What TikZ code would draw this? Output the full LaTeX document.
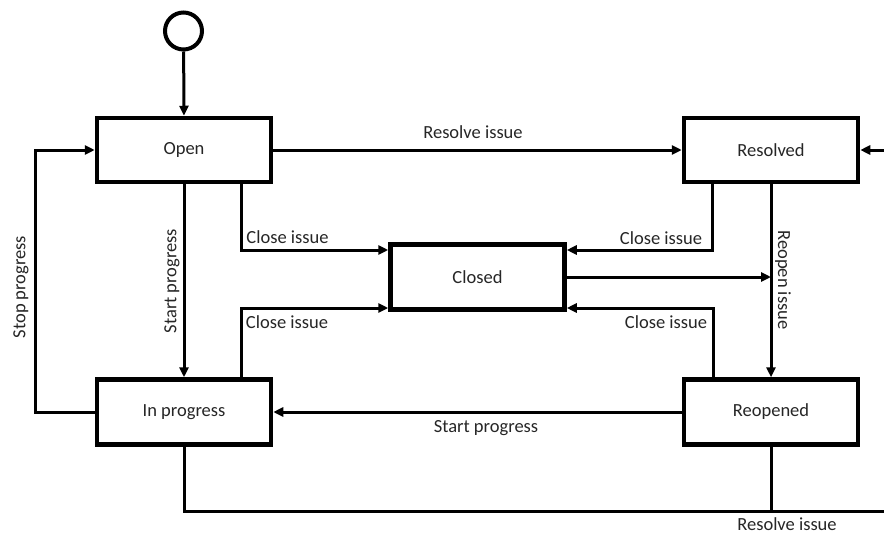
\documentclass[tikz,border=0pt]{standalone}
\usepackage{fontspec}
\setmainfont{Carlito}
\usetikzlibrary{arrows.meta,calc}
\tikzset{
  state/.style={draw=black, line width=4.5pt, fill=white, rectangle,
    minimum width=174pt, minimum height=65pt, inner sep=0pt,
    font=\fontsize{18.5}{22}\selectfont, text=black!85},
  conn/.style={line width=3pt, -{Triangle[length=10pt,width=9pt]}},
  wire/.style={line width=3pt},
  lbl/.style={font=\fontsize{18.5}{22}\selectfont, text=black!85, inner sep=0pt},
}
\begin{document}
\begin{tikzpicture}[x=1pt,y=-1pt]
  \useasboundingbox (0,0) rectangle (884,535);

  % states
  \node[draw=black, line width=4pt, circle, minimum size=37pt, inner sep=0pt] (init) at (183.5,31) {};
  \node[state, minimum height=64pt] (open) at (184,150) {Open};
  \node[state, minimum height=64pt] (resolved) at (771,150) {Resolved};
  \node[state] (closed) at (477.5,277) {Closed};
  \node[state] (inprog) at (184,412) {In progress};
  \node[state] (reopened) at (771,412) {Reopened};

  % free ends at the right border
  \coordinate (rin) at (884,150);
  \coordinate (rbot) at (884,511);

  % transitions
  \draw[conn] (init) -- (open.north);
  \draw[conn] (open.east) -- (resolved.west);
  \draw[conn] (rin) -- (resolved.east);
  \draw[conn] (open.south) -- (inprog.north);
  \draw[conn] (inprog.west) -- ++(-59,0) |- (open.west);
  \draw[conn] ([xshift=57pt]open.south) |- ([yshift=27pt]closed.west);
  \draw[conn] ([xshift=57pt]inprog.north) |- ([yshift=-31pt]closed.west);
  \draw[conn] ([xshift=-59pt]resolved.south) |- ([yshift=27pt]closed.east);
  \draw[conn] ([xshift=-58pt]reopened.north) |- ([yshift=-31pt]closed.east);
  \draw[conn] (closed.east) -- (closed.east -| resolved.south);
  \draw[conn] (resolved.south) -- (reopened.north);
  \draw[conn] (reopened.west) -- (inprog.east);
  \draw[wire] (inprog.south) |- (rbot);
  \draw[wire] (reopened.south) -- (reopened.south |- rbot);

  % transition labels
  \node[lbl] (l1) at (473,132) {Resolve issue};
  \node[lbl, rotate=90] (l2) at (172,281) {Start progress};
  \node[lbl, rotate=90] (l3) at (21,287) {Stop progress};
  \node[lbl] (l4) at (287.5,237) {Close issue};
  \node[lbl] (l5) at (287,322) {Close issue};
  \node[lbl] (l6) at (661,238) {Close issue};
  \node[lbl] (l7) at (666,322) {Close issue};
  \node[lbl, rotate=-90] (l8) at (783,280) {Reopen issue};
  \node[lbl] (l9) at (486,428) {Start progress};
  \node[lbl] (l10) at (787,524) {Resolve issue};
\end{tikzpicture}
\end{document}
